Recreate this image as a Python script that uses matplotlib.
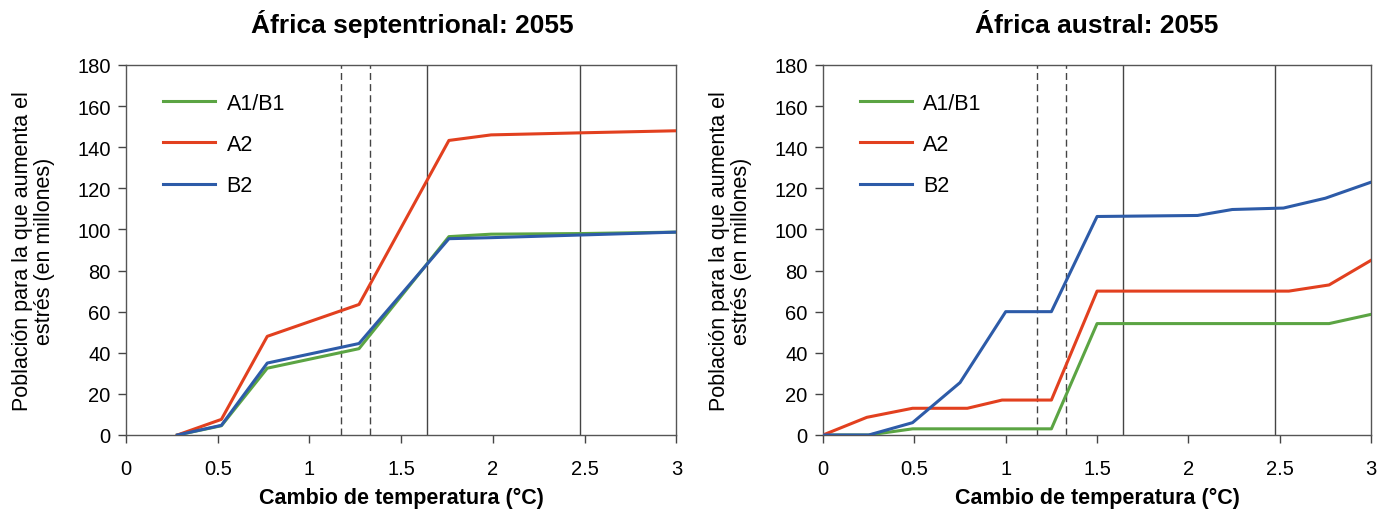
import matplotlib.pyplot as plt
import numpy as np

plt.rcParams['font.family'] = ['Liberation Sans', 'DejaVu Sans']

# África septentrional
north_x_a1b1 = [0.28, 0.52, 0.77, 1.27, 1.76, 1.99, 2.48, 3.0]
north_a1b1 = [0, 4.5, 32.5, 42, 96.5, 97.7, 98, 98.7]
north_x_a2 = [0.28, 0.52, 0.77, 1.27, 1.76, 1.99, 2.48, 3.0]
north_a2 = [0, 7.6, 48, 63.5, 143.3, 146, 147, 148]
north_x_b2 = [0.28, 0.52, 0.77, 1.27, 1.76, 1.99, 2.48, 3.0]
north_b2 = [0, 4.7, 35, 44.5, 95.5, 96, 97.3, 98.7]

# África austral
south_x_a1b1 = [0, 0.25, 0.49, 1.25, 1.5, 2.77, 3.0]
south_a1b1 = [0, 0, 3, 3, 54.2, 54.2, 58.7]
south_x_a2 = [0, 0.24, 0.49, 0.79, 0.98, 1.25, 1.5, 2.55, 2.77, 3.0]
south_a2 = [0, 8.6, 13, 13, 17, 17, 70, 70, 73, 85]
south_x_b2 = [0, 0.25, 0.49, 0.75, 1.0, 1.25, 1.5, 2.05, 2.24, 2.52, 2.75, 3.0]
south_b2 = [0, 0, 6, 25.5, 60, 60, 106.3, 106.8, 109.7, 110.4, 115.2, 123]

dashed_x = [1.17, 1.33]
solid_x = [1.64, 2.475]

green = '#5ba443'
red = '#e2401f'
blue = '#2d5ba8'

fig = plt.figure(figsize=(13.83, 5.10), dpi=100)
ax1 = fig.add_axes([0.0911, 0.1451, 0.398, 0.7255])
ax2 = fig.add_axes([0.5951, 0.1451, 0.3963, 0.7255])

panels = [
    (ax1, 'África septentrional: 2055', 0.52,
     (north_x_a1b1, north_a1b1), (north_x_a2, north_a2), (north_x_b2, north_b2)),
    (ax2, 'África austral: 2055', 0.5,
     (south_x_a1b1, south_a1b1), (south_x_a2, south_a2), (south_x_b2, south_b2)),
]

for ax, title, tx, g, r, b in panels:
    for xv in dashed_x:
        ax.axvline(xv, color='#444444', lw=1.0, ls=(0, (5, 3)), zorder=1)
    for xv in solid_x:
        ax.axvline(xv, color='#444444', lw=1.0, zorder=1)
    ax.plot(g[0], g[1], color=green, lw=2.2, label='A1/B1', zorder=3)
    ax.plot(r[0], r[1], color=red, lw=2.2, label='A2', zorder=3)
    ax.plot(b[0], b[1], color=blue, lw=2.2, label='B2', zorder=3)

    ax.set_xlim(0, 3)
    ax.set_ylim(0, 180)
    ax.set_xticks(np.arange(0, 3.01, 0.5))
    ax.set_xticklabels(['0', '0.5', '1', '1.5', '2', '2.5', '3'])
    ax.set_yticks(np.arange(0, 181, 20))
    ax.tick_params(axis='both', direction='out', length=6, width=1,
                   color='#444444', labelsize=14.5, pad=5)
    ax.tick_params(axis='x', pad=11)
    for s in ax.spines.values():
        s.set_color('#555555')
        s.set_linewidth(1.0)

    ax.set_title(title, fontsize=19, fontweight='bold', pad=24, x=tx)
    ax.set_xlabel('Cambio de temperatura (°C)', fontsize=15.5,
                  fontweight='bold', labelpad=7)
    ax.set_ylabel('Población para la que aumenta el\nestrés (en millones)',
                  fontsize=15.5, labelpad=16, linespacing=1.05)

    leg = ax.legend(loc='upper left', bbox_to_anchor=(0.032, 0.978), frameon=False,
                    fontsize=15.5, handlelength=2.4, labelspacing=0.95,
                    handletextpad=0.55)

fig.savefig('out.png', dpi=100)
